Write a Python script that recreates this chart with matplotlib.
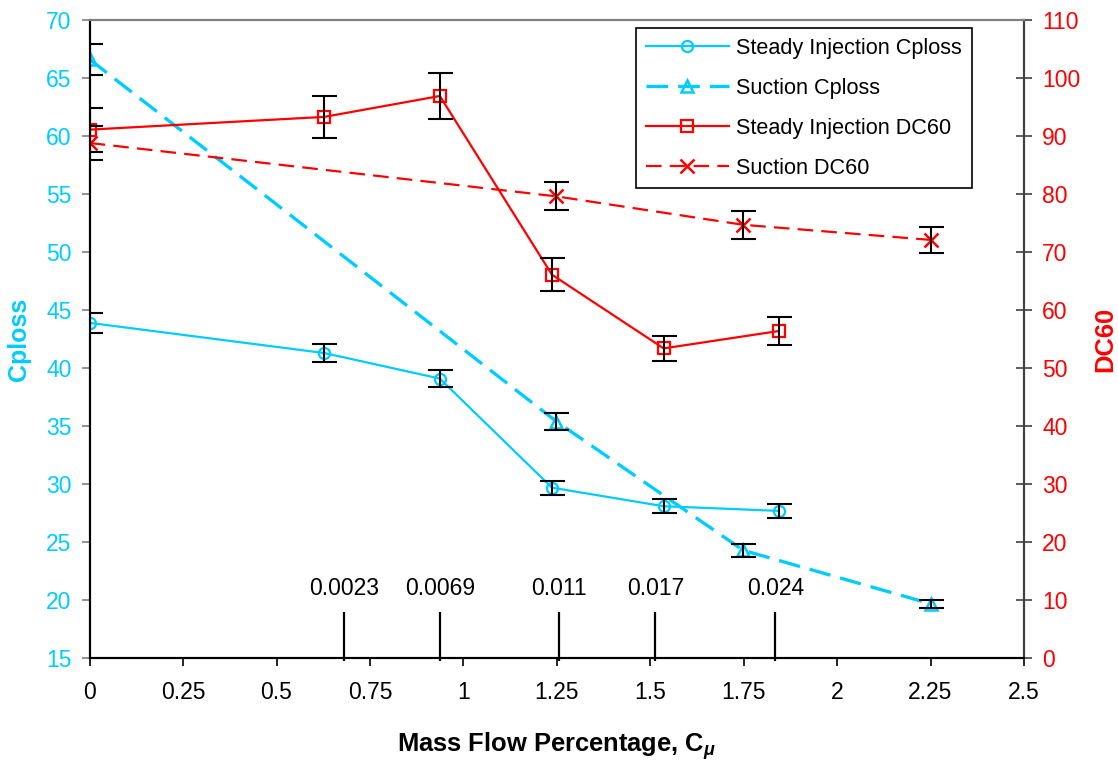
import matplotlib
matplotlib.use("Agg")
import matplotlib.pyplot as plt

plt.rcParams['font.family'] = ['Liberation Sans', 'DejaVu Sans']
plt.rcParams['mathtext.fontset'] = 'custom'
plt.rcParams['mathtext.it'] = 'Liberation Sans:italic:bold'
plt.rcParams['mathtext.rm'] = 'Liberation Sans:bold'

# Steady injection data
inj_x = [0, 0.628, 0.937, 1.237, 1.536, 1.844]
inj_cploss = [43.9, 41.3, 39.1, 29.7, 28.1, 27.7]
inj_cploss_err = [0.85, 0.75, 0.75, 0.6, 0.6, 0.6]
inj_dc60 = [91.1, 93.3, 96.9, 66.1, 53.4, 56.4]
inj_dc60_err = [3.8, 3.6, 3.9, 2.8, 2.2, 2.4]

# Suction data
suc_x = [0, 1.249, 1.749, 2.25]
suc_cploss = [66.6, 35.4, 24.3, 19.7]
suc_cploss_err = [1.3, 0.7, 0.55, 0.35]
suc_dc60 = [88.8, 79.6, 74.7, 72.1]
suc_dc60_err = [3.0, 2.4, 2.4, 2.2]

# C_mu annotations
cmu_pos = [0.68, 0.937, 1.257, 1.514, 1.835]
cmu_labels = ["0.0023", "0.0069", "0.011", "0.017", "0.024"]

cyan = "#00CCFF"
red = "#FF0000"

fig = plt.figure(figsize=(11.18, 7.65), dpi=100)
ax = fig.add_axes([0.0802, 0.1395, 0.8357, 0.8344])
ax2 = ax.twinx()

# Cploss on left axis
l1, = ax.plot(inj_x, inj_cploss, color=cyan, lw=1.6, marker="o", ms=8,
              mfc="none", mec=cyan, mew=1.6, label="Steady Injection Cploss")
l2, = ax.plot(suc_x, suc_cploss, color=cyan, lw=2.4, ls=(0, (6.5, 3)), marker="^", ms=8.5,
              mfc="none", mec=cyan, mew=1.8, label="Suction Cploss")
ax.errorbar(inj_x, inj_cploss, yerr=inj_cploss_err, fmt="none", ecolor="k",
            elinewidth=1.5, capsize=9, capthick=1.5, zorder=5)
ax.errorbar(suc_x, suc_cploss, yerr=suc_cploss_err, fmt="none", ecolor="k",
            elinewidth=1.5, capsize=9, capthick=1.5, zorder=5)

# DC60 on right axis
l3, = ax2.plot(inj_x, inj_dc60, color=red, lw=1.6, marker="s", ms=8,
               mfc="none", mec=red, mew=1.6, label="Steady Injection DC60")
l4, = ax2.plot(suc_x, suc_dc60, color=red, lw=1.6, ls=(0, (7, 3.7)), marker="x", ms=10,
               mec=red, mew=1.8, label="Suction DC60")
ax2.errorbar(inj_x, inj_dc60, yerr=inj_dc60_err, fmt="none", ecolor="k",
             elinewidth=1.5, capsize=9, capthick=1.5, zorder=5)
ax2.errorbar(suc_x, suc_dc60, yerr=suc_dc60_err, fmt="none", ecolor="k",
             elinewidth=1.5, capsize=9, capthick=1.5, zorder=5)

# C_mu marks along the bottom
ax.vlines(cmu_pos, 14.75, 19.0, color="k", lw=1.6, clip_on=False, zorder=6)
for p, s in zip(cmu_pos, cmu_labels):
    ax.text(p, 21.0, s, ha="center", va="center", fontsize=16.5, color="k")

ax.set_xlim(0, 2.5)
ax.set_ylim(15, 70)
ax2.set_ylim(0, 110)
ax.set_xticks([0, 0.25, 0.5, 0.75, 1, 1.25, 1.5, 1.75, 2, 2.25, 2.5])
ax.set_xticklabels(["0", "0.25", "0.5", "0.75", "1", "1.25", "1.5", "1.75", "2", "2.25", "2.5"])
ax.set_yticks(range(15, 71, 5))
ax2.set_yticks(range(0, 111, 10))

ax.tick_params(axis="x", direction="out", length=6, width=1.2, colors="k",
               labelsize=16.5, pad=10)
ax.tick_params(axis="y", direction="out", length=6, width=1.2, colors="#808080",
               labelcolor=cyan, labelsize=16.5, pad=7)
ax2.tick_params(axis="y", direction="inout", length=12, width=1.2, colors="#404040",
                labelcolor=red, labelsize=16.5, pad=7)

for a in (ax, ax2):
    a.spines["top"].set_color("#808080")
    a.spines["left"].set_color("k")
    a.spines["bottom"].set_color("k")
    a.spines["right"].set_color("#404040")
    for sp in a.spines.values():
        sp.set_linewidth(1.5)

ax.set_xlabel(r"Mass Flow Percentage, C$_{\mu}$", fontsize=18.4, fontweight="bold",
              labelpad=19)
ax.set_ylabel("Cploss", fontsize=18, fontweight="bold", color=cyan, labelpad=11)
ax2.set_ylabel("DC60", fontsize=18.4, fontweight="bold", color=red, labelpad=9)

leg = ax2.legend(handles=[l1, l2, l3, l4], loc="upper right",
                 bbox_to_anchor=(0.944, 0.987), borderaxespad=0, fontsize=15.6,
                 handlelength=3.8, handletextpad=0.35, labelspacing=0.87,
                 borderpad=0.45, fancybox=False, framealpha=1, edgecolor="k")
leg.get_frame().set_linewidth(1.2)

plt.savefig("out.png", dpi=100)
